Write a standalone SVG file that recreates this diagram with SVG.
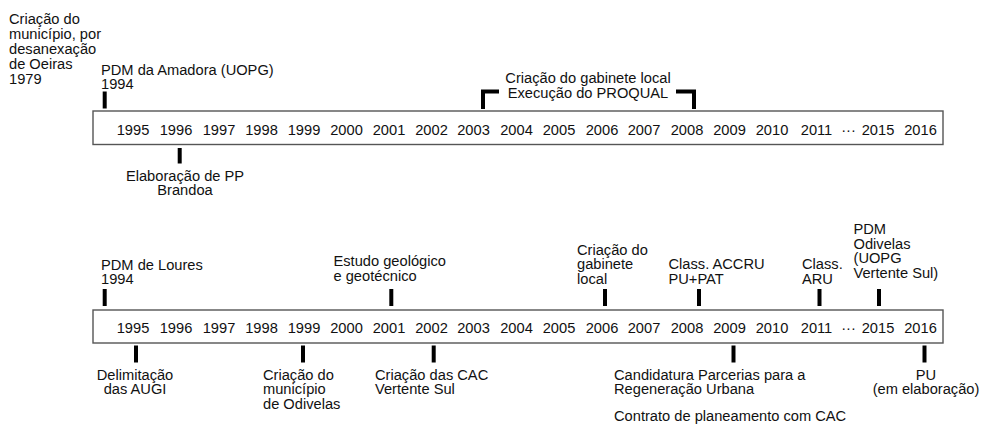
<svg xmlns="http://www.w3.org/2000/svg" width="982" height="424" viewBox="0 0 982 424">
<defs>
<style>
text{font-family:"Liberation Sans",Arial,"DejaVu Sans",sans-serif;font-size:14.67px;fill:#111;}
.yr{text-anchor:middle;}
.mid{text-anchor:middle;}
.box{fill:#fff;stroke:#555;stroke-width:1.4;}
.tick{stroke:#000;stroke-width:4;fill:none;}
.brk{stroke:#000;stroke-width:4;fill:none;stroke-linejoin:miter;stroke-linecap:butt;}
</style>
</defs>
<rect width="982" height="424" fill="#fff"/>

<!-- TOP TIMELINE -->
<g id="timeline-top">
<rect class="box" x="93" y="111" width="850" height="33.5"/>
<text class="yr" y="134.5"><tspan x="133">1995</tspan><tspan x="176">1996</tspan><tspan x="219">1997</tspan><tspan x="261.5">1998</tspan><tspan x="304">1999</tspan><tspan x="346.5">2000</tspan><tspan x="389">2001</tspan><tspan x="431.5">2002</tspan><tspan x="473.5">2003</tspan><tspan x="516.5">2004</tspan><tspan x="559">2005</tspan><tspan x="602">2006</tspan><tspan x="644">2007</tspan><tspan x="687">2008</tspan><tspan x="729.5">2009</tspan><tspan x="772">2010</tspan><tspan x="816.5">2011</tspan><tspan x="848.5">···</tspan><tspan x="878">2015</tspan><tspan x="920.5">2016</tspan></text>
</g>

<g id="top-oeiras">
<text><tspan x="9" y="24">Criação do</tspan><tspan x="9" y="39">município, por</tspan><tspan x="9" y="54">desanexação</tspan><tspan x="9" y="69">de Oeiras</tspan><tspan x="9" y="84">1979</tspan></text>
</g>
<g id="top-pdm-amadora">
<text><tspan x="101" y="74.5">PDM da Amadora (UOPG)</tspan><tspan x="101" y="89">1994</tspan></text>
</g>
<g id="top-proqual">
<text class="mid"><tspan x="588" y="83">Criação do gabinete local</tspan><tspan x="588" y="97.5">Execução do PROQUAL</tspan></text>
</g>
<g id="top-brandoa">
<text class="mid"><tspan x="185" y="180.5">Elaboração de PP</tspan><tspan x="185" y="195">Brandoa</tspan></text>
</g>

<!-- BOTTOM TIMELINE -->
<g id="timeline-bottom">
<rect class="box" x="93" y="310" width="850" height="33"/>
<text class="yr" y="333"><tspan x="133">1995</tspan><tspan x="176">1996</tspan><tspan x="219">1997</tspan><tspan x="261.5">1998</tspan><tspan x="304">1999</tspan><tspan x="346.5">2000</tspan><tspan x="389">2001</tspan><tspan x="431.5">2002</tspan><tspan x="473.5">2003</tspan><tspan x="516.5">2004</tspan><tspan x="559">2005</tspan><tspan x="602">2006</tspan><tspan x="644">2007</tspan><tspan x="687">2008</tspan><tspan x="729.5">2009</tspan><tspan x="772">2010</tspan><tspan x="816.5">2011</tspan><tspan x="848.5">···</tspan><tspan x="878">2015</tspan><tspan x="920.5">2016</tspan></text>
</g>

<g id="bot-pdm-loures">
<text><tspan x="101" y="269.5">PDM de Loures</tspan><tspan x="101" y="284">1994</tspan></text>
</g>
<g id="bot-estudo">
<text><tspan x="333.5" y="266">Estudo geológico</tspan><tspan x="333.5" y="280.5">e geotécnico</tspan></text>
</g>
<g id="bot-gabinete">
<text><tspan x="577" y="254.5">Criação do</tspan><tspan x="577" y="269">gabinete</tspan><tspan x="577" y="283.5">local</tspan></text>
</g>
<g id="bot-accru">
<text><tspan x="668.5" y="269">Class. ACCRU</tspan><tspan x="668.5" y="283.5">PU+PAT</tspan></text>
</g>
<g id="bot-aru">
<text><tspan x="802" y="269">Class.</tspan><tspan x="802" y="283.5">ARU</tspan></text>
</g>
<g id="bot-pdm-odivelas">
<text><tspan x="853.5" y="234">PDM</tspan><tspan x="853.5" y="248.5">Odivelas</tspan><tspan x="853.5" y="263">(UOPG</tspan><tspan x="853.5" y="277.5">Vertente Sul)</tspan></text>
</g>
<g id="bot-augi">
<text class="mid"><tspan x="135" y="379.5">Delimitação</tspan><tspan x="135" y="394">das AUGI</tspan></text>
</g>
<g id="bot-odivelas">
<text><tspan x="263" y="379.5">Criação do</tspan><tspan x="263" y="394">município</tspan><tspan x="263" y="408.5">de Odivelas</tspan></text>
</g>
<g id="bot-cac">
<text><tspan x="375" y="379.5">Criação das CAC</tspan><tspan x="375" y="394">Vertente Sul</tspan></text>
</g>
<g id="bot-candidatura">
<text><tspan x="614" y="379.5">Candidatura Parcerias para a</tspan><tspan x="614" y="394">Regeneração Urbana</tspan><tspan x="614" y="420.5">Contrato de planeamento com CAC</tspan></text>
</g>
<g id="bot-pu">
<text class="mid"><tspan x="926" y="379.5">PU</tspan><tspan x="926" y="394">(em elaboração)</tspan></text>
</g>

<!-- CONNECTORS -->
<g id="connectors">
<line class="tick" x1="104.7" y1="91.5" x2="104.7" y2="108.5"/>
<line class="tick" x1="179.7" y1="148" x2="179.7" y2="163.5"/>
<path class="brk" d="M499 91.5 H483 V109"/>
<path class="brk" d="M676 91.5 H694 V109"/>

<line class="tick" x1="104.7" y1="289" x2="104.7" y2="306"/>
<line class="tick" x1="391.3" y1="289" x2="391.3" y2="306"/>
<line class="tick" x1="605" y1="289" x2="605" y2="306"/>
<line class="tick" x1="699" y1="289" x2="699" y2="306"/>
<line class="tick" x1="819.5" y1="289" x2="819.5" y2="306"/>
<line class="tick" x1="879" y1="289" x2="879" y2="306"/>

<line class="tick" x1="136" y1="345.5" x2="136" y2="362.5"/>
<line class="tick" x1="303" y1="345.5" x2="303" y2="362.5"/>
<line class="tick" x1="433.7" y1="345.5" x2="433.7" y2="362.5"/>
<line class="tick" x1="733.5" y1="345.5" x2="733.5" y2="362.5"/>
<line class="tick" x1="924.5" y1="345.5" x2="924.5" y2="362.5"/>
</g>
</svg>
